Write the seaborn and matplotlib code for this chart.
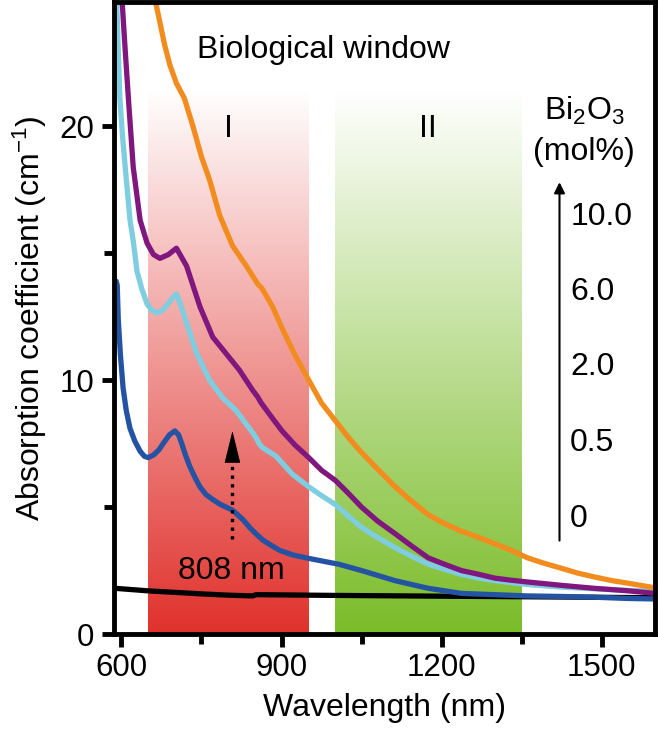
import numpy as np
import pandas as pd
import matplotlib
matplotlib.use('Agg')
import matplotlib.pyplot as plt
import seaborn as sns

# biological windows I and II
window_names = ['I', 'II']
window_start = [650, 1000]
window_end = [950, 1350]
window_colors = [(0.88, 0.19, 0.17), (0.48, 0.74, 0.16)]

# Bi2O3 content labels (mol%)
bi_levels = ['0', '0.5', '2.0', '6.0', '10.0']
bi_colors = ['#000000', '#2553a4', '#7fcde0', '#80177f', '#f28c1e']

# absorption spectra
wl_0 = [588, 650, 700, 750, 800, 846, 852, 900, 1000, 1200, 1400, 1600]
ab_0 = [1.8, 1.7, 1.64, 1.58, 1.53, 1.5, 1.55, 1.54, 1.52, 1.49, 1.46, 1.43]

wl_05 = [590, 592, 594, 598, 603, 609, 616, 625, 635, 643, 650, 660, 670, 678, 690, 700,
         707, 713, 720, 728, 737, 747, 758, 771, 784, 796, 808, 815, 828, 840, 852, 865,
         880, 896, 920, 946, 975, 1007, 1050, 1113, 1175, 1237, 1300, 1361, 1423, 1486,
         1550, 1600]
ab_05 = [13.9, 13.75, 12.4, 11.0, 9.7, 8.8, 8.1, 7.6, 7.2, 7.0, 6.95, 7.05, 7.25, 7.5,
         7.85, 8.0, 7.85, 7.5, 7.05, 6.6, 6.2, 5.8, 5.5, 5.3, 5.12, 5.0, 4.88, 4.75, 4.5,
         4.2, 3.95, 3.7, 3.5, 3.3, 3.12, 3.0, 2.88, 2.75, 2.5, 2.1, 1.8, 1.6, 1.55, 1.5,
         1.48, 1.45, 1.4, 1.38]

wl_2 = [590, 592, 597, 602, 607, 616, 622, 629, 638, 648, 657, 666, 677, 687, 696, 703,
        712, 722, 741, 765, 790, 815, 840, 852, 858, 864, 890, 920, 951, 975, 1001, 1025,
        1050, 1080, 1113, 1145, 1175, 1205, 1237, 1270, 1300, 1361, 1423, 1486, 1550, 1600]
ab_2 = [25.5, 24.3, 21.1, 19.6, 18.4, 16.3, 15.5, 14.3, 13.6, 13.0, 12.75, 12.65, 12.75,
        13.0, 13.25, 13.4, 12.9, 12.25, 11.05, 10.0, 9.3, 8.8, 8.1, 7.75, 7.5, 7.35, 7.0,
        6.3, 5.8, 5.45, 5.1, 4.65, 4.2, 3.8, 3.4, 3.05, 2.75, 2.55, 2.35, 2.2, 2.1, 1.95,
        1.85, 1.78, 1.72, 1.68]

wl_6 = [598, 601, 607, 613, 622, 635, 648, 660, 672, 688, 703, 722, 747, 771, 796, 821,
        846, 855, 862, 883, 901, 925, 951, 975, 1001, 1025, 1050, 1080, 1113, 1145, 1175,
        1205, 1237, 1270, 1300, 1330, 1361, 1423, 1486, 1550, 1600]
ab_6 = [26.0, 25.0, 23.0, 21.1, 18.4, 16.3, 15.4, 14.95, 14.8, 14.95, 15.2, 14.5, 12.9,
        11.7, 11.05, 10.4, 9.6, 9.35, 9.1, 8.5, 8.0, 7.45, 6.95, 6.45, 6.05, 5.55, 5.0,
        4.45, 3.95, 3.45, 3.0, 2.75, 2.5, 2.35, 2.2, 2.12, 2.05, 1.92, 1.8, 1.7, 1.6]

wl_10 = [655, 663, 672, 681, 691, 703, 718, 734, 750, 765, 784, 808, 834, 855, 862, 868,
         883, 902, 925, 951, 975, 1001, 1025, 1050, 1080, 1113, 1140, 1175, 1205, 1237,
         1270, 1300, 1330, 1361, 1390, 1423, 1455, 1486, 1520, 1550, 1600]
ab_10 = [25.4, 25.0, 24.1, 23.2, 22.4, 21.7, 21.1, 20.0, 18.8, 17.9, 16.5, 15.3, 14.5,
         13.8, 13.65, 13.45, 12.9, 12.0, 11.0, 10.0, 9.1, 8.4, 7.75, 7.15, 6.5, 5.8, 5.3,
         4.7, 4.35, 4.05, 3.8, 3.55, 3.3, 3.0, 2.8, 2.6, 2.4, 2.25, 2.1, 2.0, 1.82]

spectra = [(wl_0, ab_0), (wl_05, ab_05), (wl_2, ab_2), (wl_6, ab_6), (wl_10, ab_10)]

sns.set_theme(style='ticks')
plt.rcParams['font.family'] = ['Liberation Sans', 'DejaVu Sans']
plt.rcParams['mathtext.fontset'] = 'custom'
plt.rcParams['mathtext.rm'] = 'Liberation Sans'
plt.rcParams['mathtext.it'] = 'Liberation Sans:italic'
for key in ['text.color', 'axes.labelcolor', 'xtick.color', 'ytick.color', 'axes.edgecolor']:
    plt.rcParams[key] = 'black'

fig = plt.figure(figsize=(6.58, 7.35), dpi=100)
ax = fig.add_axes([114 / 658, 101 / 735, 541 / 658, 632 / 735])

# gradient bands (colour at bottom fading to white)
band_top = 21.5
for x0, x1, col in zip(window_start, window_end, window_colors):
    n = 256
    grad = np.zeros((n, 1, 4))
    grad[:, 0, :3] = col
    grad[:, 0, 3] = np.linspace(1, 0, n)
    ax.imshow(grad, extent=[x0, x1, 0, band_top], origin='lower',
              aspect='auto', zorder=1, interpolation='bilinear')

for (wl, ab), col in zip(spectra, bi_colors):
    sns.lineplot(x=wl, y=ab, color=col, lw=3.8, ax=ax, sort=False,
                 estimator=None, zorder=3)

ax.set_xlim(586, 1600)
ax.set_ylim(0, 24.9)
ax.set_xticks([600, 900, 1200, 1500])
ax.set_xticks([750, 1050, 1350], minor=True)
ax.set_yticks([0, 10, 20])
ax.set_yticks([5, 15], minor=True)

for s in ax.spines.values():
    s.set_linewidth(3.5)
    s.set_zorder(5)
ax.tick_params(which='major', length=9, width=3.5, labelsize=22.5, pad=5)
ax.tick_params(which='minor', length=7, width=3.5)

ax.set_xlabel('Wavelength (nm)', fontsize=23, labelpad=7)
ax.set_ylabel('Absorption coefficient (cm$^{-1}$)', fontsize=23, labelpad=8)

# annotations
ax.text(741, 23.0, 'Biological window', fontsize=23, ha='left', va='center')
for name, x0, x1 in zip(window_names, window_start, window_end):
    ax.text((x0 + x1) / 2, 19.9, name, fontsize=23, ha='center', va='center')

ax.text(806, 2.5, '808 nm', fontsize=23, ha='center', va='center', zorder=4)
# dotted shaft + solid head for the 808 nm excitation arrow
ax.plot([808, 808], [3.75, 7.2], color='black', lw=2.4, ls=(0, (1, 1.6)), zorder=4)
ax.annotate('', xy=(808, 8.0), xytext=(808, 7.0),
            arrowprops=dict(arrowstyle='-|>,head_length=0.9,head_width=0.22',
                            lw=0.5, color='black', mutation_scale=24,
                            shrinkA=0, shrinkB=0),
            zorder=4)

ax.text(1467, 20.6, 'Bi$_2$O$_3$', fontsize=23, ha='center', va='center')
ax.text(1467, 19.0, '(mol%)', fontsize=23, ha='center', va='center')
ax.annotate('', xy=(1421, 17.8), xytext=(1421, 3.68),
            arrowprops=dict(arrowstyle='-|>', lw=1.5, color='black',
                            mutation_scale=16, shrinkA=0, shrinkB=0))
level_y = [4.55, 7.51, 10.51, 13.48, 16.44]
for lab, yy in zip(bi_levels, level_y):
    ax.text(1441, yy, lab, fontsize=23, ha='left', va='center')

fig.savefig('out.png', dpi=100)
